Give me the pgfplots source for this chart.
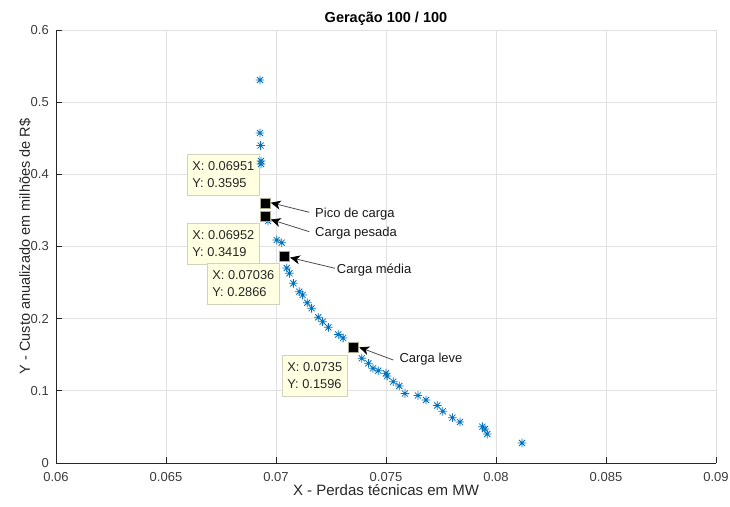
\documentclass[border=0pt]{standalone}
\usepackage{fontspec}
\setmainfont{Liberation Sans}
\usepackage{pgfplots}
\pgfplotsset{compat=1.18}
\usetikzlibrary{arrows.meta}

\definecolor{mblue}{RGB}{0,114,189}
\definecolor{axgray}{RGB}{38,38,38}
\definecolor{gridgray}{RGB}{225,225,225}
\definecolor{tipfill}{RGB}{255,255,225}
\definecolor{tipdraw}{RGB}{210,210,190}
\definecolor{tipedge}{RGB}{170,170,140}

% matlab-like '*' marker (+ and x together)
\pgfdeclareplotmark{mstar}{%
  \pgfpathmoveto{\pgfqpoint{-\pgfplotmarksize}{0pt}}%
  \pgfpathlineto{\pgfqpoint{\pgfplotmarksize}{0pt}}%
  \pgfpathmoveto{\pgfqpoint{0pt}{-\pgfplotmarksize}}%
  \pgfpathlineto{\pgfqpoint{0pt}{\pgfplotmarksize}}%
  \pgfpathmoveto{\pgfqpoint{-.707\pgfplotmarksize}{-.707\pgfplotmarksize}}%
  \pgfpathlineto{\pgfqpoint{.707\pgfplotmarksize}{.707\pgfplotmarksize}}%
  \pgfpathmoveto{\pgfqpoint{-.707\pgfplotmarksize}{.707\pgfplotmarksize}}%
  \pgfpathlineto{\pgfqpoint{.707\pgfplotmarksize}{-.707\pgfplotmarksize}}%
  \pgfusepathqstroke}

\tikzset{
  tip/.style={anchor=north west, fill=tipfill, draw=tipdraw, line width=0.8pt,
    align=left, text=black!85, inner xsep=5pt, inner ysep=7.5pt,
    font=\fontsize{12.8}{17}\selectfont},
  lbl/.style={anchor=west, inner sep=0pt, text=black!90,
    font=\fontsize{13}{15}\selectfont},
  arr/.style={black!70, line width=0.8pt,
    -{Stealth[length=10pt, width=9pt, inset=3pt, color=black, fill=black]}},
}

\begin{document}
\begin{tikzpicture}
\begin{axis}[
    scale only axis,
    width=660pt, height=433pt,
    xmin=0.06, xmax=0.09,
    ymin=0, ymax=0.6,
    scaled x ticks=false, scaled y ticks=false,
    axis x line*=bottom,
    axis y line*=left,
    axis line style={color=axgray, line width=0.8pt},
    xtick={0.06,0.065,0.07,0.075,0.08,0.085,0.09},
    xticklabels={0.06,0.065,0.07,0.075,0.08,0.085,0.09},
    ytick={0,0.1,0.2,0.3,0.4,0.5,0.6},
    yticklabels={0,0.1,0.2,0.3,0.4,0.5,0.6},
    tick align=inside,
    major tick length=6pt,
    tick style={color=axgray, line width=0.8pt},
    grid=major,
    major grid style={draw=gridgray, line width=0.8pt},
    ticklabel style={font=\fontsize{13}{15}\selectfont, text=axgray!90},
    xticklabel style={anchor=base, inner sep=0pt, yshift=-18.5pt},
    yticklabel style={anchor=east, inner sep=0pt, xshift=-7pt},
    title={Geração 100 / 100},
    title style={at={(axis description cs:0.5,1)}, anchor=base, yshift=1.5pt,
      font=\bfseries\fontsize{14.5}{16}\selectfont, text=black},
    xlabel={X - Perdas técnicas em MW},
    xlabel style={at={(axis description cs:0.5,0)}, anchor=base, yshift=-32.5pt,
      font=\fontsize{15}{17}\selectfont, text=axgray},
    ylabel={Y - Custo anualizado em milhões de R\$},
    ylabel style={at={(axis description cs:-0.047,0.5)}, anchor=center,
      font=\fontsize{14.5}{17}\selectfont, text=axgray},
]

% population (100th generation)
\addplot[only marks, mark=mstar, mark size=4.3pt, color=mblue, line width=0.8pt]
coordinates {
(0.06927,0.5307) (0.06927,0.4573) (0.06930,0.4399) (0.06932,0.4185) (0.06932,0.4143)
(0.06951,0.3595) (0.06952,0.3419) (0.06964,0.3353) (0.07003,0.3090) (0.07026,0.3053)
(0.07036,0.2866) (0.07049,0.2702) (0.07061,0.2629) (0.07079,0.2490) (0.07106,0.2374)
(0.07121,0.2328) (0.07142,0.2221) (0.07162,0.2144) (0.07192,0.2019) (0.07212,0.1958)
(0.07238,0.1880) (0.07283,0.1781) (0.07305,0.1732) (0.07350,0.1596) (0.07390,0.1451)
(0.07420,0.1381) (0.07441,0.1312) (0.07465,0.1279) (0.07500,0.1243) (0.07505,0.1205)
(0.07533,0.1127) (0.07560,0.1067) (0.07586,0.0963) (0.07645,0.0935) (0.07682,0.0873)
(0.07733,0.0797) (0.07758,0.0716) (0.07802,0.0628) (0.07836,0.0568) (0.07938,0.0503)
(0.07950,0.0471) (0.07960,0.0402) (0.08118,0.0277)
};

% selected solutions (data tips)
\addplot[only marks, mark=square*, mark size=5pt,
  mark options={fill=black, draw=tipedge, line width=0.8pt}]
coordinates {
(0.06951,0.3595) (0.06952,0.3419) (0.07036,0.2866) (0.0735,0.1596)
};

\draw[arr] (axis cs:0.071514,0.3474) -- (axis cs:0.069759,0.3607);
\draw[arr] (axis cs:0.071514,0.3205) -- (axis cs:0.069759,0.3374);
\draw[arr] (axis cs:0.072682,0.2698) -- (axis cs:0.070636,0.2847);
\draw[arr] (axis cs:0.075332,0.1427) -- (axis cs:0.073786,0.1603);

\node[lbl] at (axis cs:0.071773,0.3450) {Pico de carga};
\node[lbl] at (axis cs:0.071773,0.3180) {Carga pesada};
\node[lbl] at (axis cs:0.072759,0.2674) {Carga média};
\node[lbl] at (axis cs:0.075605,0.1434) {Carga leve};

\node[tip] at (axis cs:0.065955,0.4282) {X: 0.06951\\Y: 0.3595};
\node[tip] at (axis cs:0.065955,0.3326) {X: 0.06952\\Y: 0.3419};
\node[tip] at (axis cs:0.066864,0.2771) {X: 0.07036\\Y: 0.2866};
\node[tip] at (axis cs:0.070273,0.1496) {X: 0.0735\\Y: 0.1596};

\end{axis}
\pgfresetboundingbox
\path[use as bounding box] (-56pt,-43pt) rectangle (674pt,463pt);
\end{tikzpicture}
\end{document}
